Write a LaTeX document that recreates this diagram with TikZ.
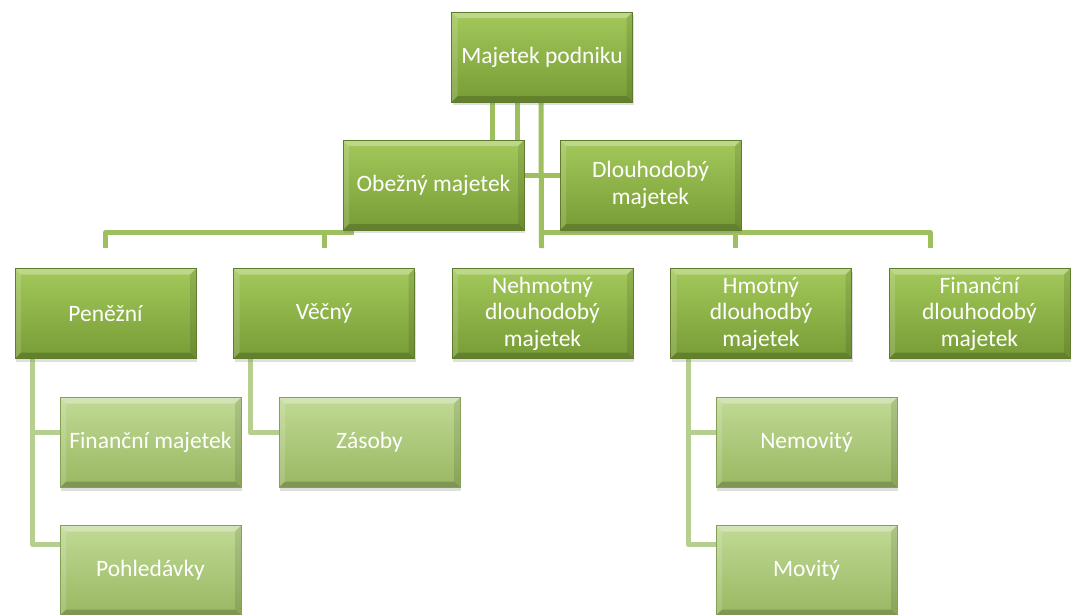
\documentclass[tikz,border=0pt]{standalone}
\usepackage{fontspec}
\setmainfont{Carlito}
\usetikzlibrary{positioning,backgrounds,shadows}

\definecolor{leaftop}{HTML}{A3C85A}
\definecolor{leafbot}{HTML}{779C36}
\definecolor{leafrim}{HTML}{5E7C2C}
\definecolor{paletop}{HTML}{C0DA94}
\definecolor{palebot}{HTML}{99B762}
\definecolor{palerim}{HTML}{86A156}
\definecolor{linkgreen}{HTML}{9DBF5E}
\definecolor{palelink}{HTML}{B6CE8E}

\tikzset{
  bevel/.style={path picture={
      \coordinate (nw) at (path picture bounding box.north west);
      \coordinate (ne) at (path picture bounding box.north east);
      \coordinate (sw) at (path picture bounding box.south west);
      \coordinate (se) at (path picture bounding box.south east);
      \fill[white,opacity=.3] (nw) -- (ne) -- ([xshift=-6pt,yshift=-6pt]ne) -- ([xshift=6pt,yshift=-6pt]nw) -- cycle;
      \fill[white,opacity=.15] (nw) -- (sw) -- ([xshift=6pt,yshift=6pt]sw) -- ([xshift=6pt,yshift=-6pt]nw) -- cycle;
      \fill[black,opacity=.18] (sw) -- (se) -- ([xshift=-6pt,yshift=6pt]se) -- ([xshift=6pt,yshift=6pt]sw) -- cycle;
      \fill[black,opacity=.1] (ne) -- (se) -- ([xshift=-6pt,yshift=6pt]se) -- ([xshift=-6pt,yshift=-6pt]ne) -- cycle;
    }}
}

\begin{document}
\begin{tikzpicture}[x=1pt,y=-1pt,on grid,
    box/.style={line width=0.7pt,minimum width=181pt,minimum height=90pt,inner sep=0pt,
      align=center,text=white,font=\fontsize{23.5}{26.5}\selectfont,bevel,
      drop shadow={opacity=.25,shadow xshift=1pt,shadow yshift=-3pt}},
    topbox/.style={box,draw=leafrim,top color=leaftop,bottom color=leafbot},
    subbox/.style={box,draw=palerim,top color=paletop,bottom color=palebot},
    link/.style={draw=linkgreen,line width=5pt},
    sublink/.style={draw=palelink,line width=5pt}]
  \useasboundingbox (0,0) rectangle (1075,614);

  % upper levels
  \node[topbox] (root) at (542,57) {Majetek podniku};
  \node[topbox] (obezny) [below left=128pt and 108.5pt of root] {Obežný majetek};
  \node[topbox] (dlouho) [right=217pt of obezny] {Dlouhodobý\\majetek};

  % second row
  \node[topbox] (penezni) at (105.5,313.5) {Peněžní};
  \node[topbox] (vecny) [right=218.5pt of penezni] {Věčný};
  \node[topbox] (nehmot) [right=218.5pt of vecny] {Nehmotný\\dlouhodobý\\majetek};
  \node[topbox] (hmotny) [right=218.5pt of nehmot] {Hmotný\\dlouhodbý\\majetek};
  \node[topbox] (financni) [right=218.5pt of hmotny] {Finanční\\dlouhodobý\\majetek};

  % third row
  \node[subbox] (finmaj) [below right=129pt and 45pt of penezni] {Finanční majetek};
  \node[subbox] (pohled) [below=128pt of finmaj] {Pohledávky};
  \node[subbox] (zasoby) [right=219pt of finmaj] {Zásoby};
  \node[subbox] (nemov) [below right=129pt and 45.5pt of hmotny] {Nemovitý};
  \node[subbox] (movity) [below=128pt of nemov] {Movitý};

  % connectors
  \coordinate (lbus) at ([xshift=-80pt,yshift=-2pt]obezny.south);
  \coordinate (rbus) at ([xshift=-1pt,yshift=-130pt]root.south);
  \coordinate (pdrop) at ([yshift=20pt]penezni.north);
  \coordinate (vdrop) at ([yshift=20pt]vecny.north);
  \coordinate (ndrop) at ([xshift=-1pt,yshift=20pt]nehmot.north);
  \coordinate (hdrop) at ([xshift=-26pt,yshift=20pt]hmotny.north);
  \coordinate (fdrop) at ([xshift=-49.5pt,yshift=20pt]financni.north);
  \begin{scope}[on background layer]
    \draw[link] ([xshift=-50pt]root.south) -- ([xshift=58.5pt]obezny.north);
    \draw[link] ([xshift=-25pt]root.south) -- ([xshift=83.5pt]obezny.north);
    \draw[link] ([xshift=-1pt]root.south) -- (ndrop);
    \draw[link] ([yshift=10pt]obezny.east) -- ([yshift=10pt]dlouho.west);
    \draw[link,line join=round] (pdrop) |- (lbus);
    \draw[link] (vdrop) -- (vdrop |- lbus);
    \draw[link,line join=round] (rbus) -| (fdrop);
    \draw[link] (hdrop) -- (hdrop |- rbus);

    \draw[sublink,line join=round] ([xshift=18pt]penezni.south west) |- ([yshift=26pt]pohled.west);
    \draw[sublink] ([xshift=18pt]penezni.south west) |- ([yshift=10pt]finmaj.west);
    \draw[sublink,line join=round] ([xshift=17pt]vecny.south west) |- ([yshift=10pt]zasoby.west);
    \draw[sublink,line join=round] ([xshift=18pt]hmotny.south west) |- ([yshift=26pt]movity.west);
    \draw[sublink] ([xshift=18pt]hmotny.south west) |- ([yshift=10pt]nemov.west);
  \end{scope}
\end{tikzpicture}
\end{document}
